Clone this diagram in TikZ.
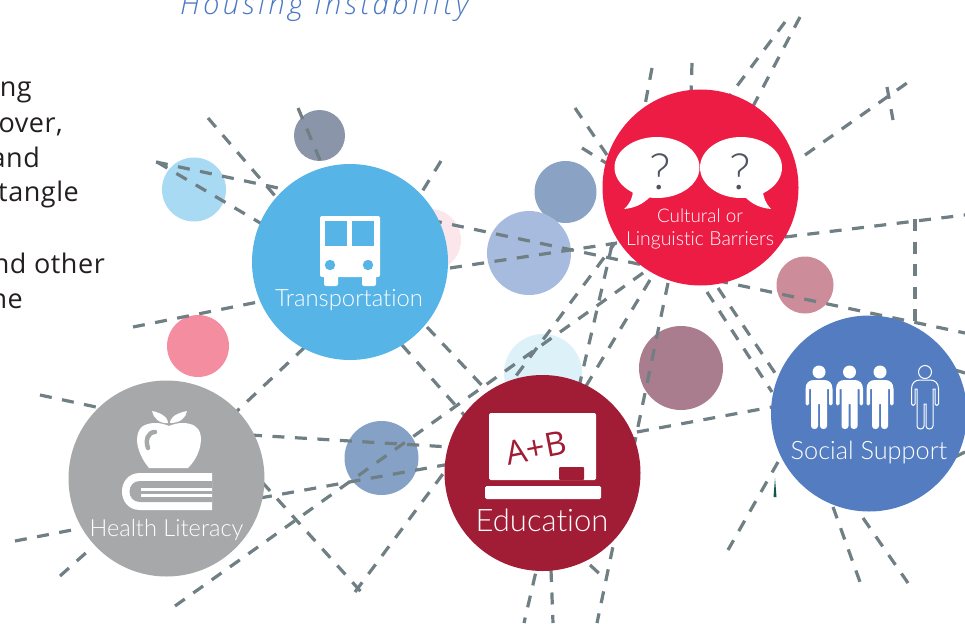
\documentclass[tikz,border=0pt]{standalone}
\usepackage{fontspec}
\setmainfont{Liberation Sans}
\newfontfamily\lightf{Lato}[UprightFont=* Light,Ligatures=NoCommon]
\newfontfamily\bodyf{Open Sans}[LetterSpace=2]
\newfontfamily\handf{Open Sans}
\newfontfamily\titlef{Open Sans}[LetterSpace=12,UprightFont=* Light,ItalicFont=* Light Italic]
\definecolor{dashc}{HTML}{6F7F84}
\definecolor{tc}{HTML}{56B4E6}
\definecolor{cc}{HTML}{ED1C45}
\definecolor{hc}{HTML}{A7A8AA}
\definecolor{ec}{HTML}{A11C35}
\definecolor{sc}{HTML}{547CC0}
\definecolor{titlec}{HTML}{4A78C2}
\definecolor{qc}{HTML}{4F5362}
\definecolor{wedgec}{HTML}{0A5A4A}
\definecolor{sa}{HTML}{A9DAF3}
\definecolor{sb}{HTML}{8A95A9}
\definecolor{sd}{HTML}{FBE6EC}
\definecolor{se}{HTML}{8AA3C4}
\definecolor{sf}{HTML}{A6BBDD}
\definecolor{sg}{HTML}{CD8C99}
\definecolor{sh}{HTML}{F58DA1}
\definecolor{si}{HTML}{85A1C5}
\definecolor{sj}{HTML}{DDF1F9}
\definecolor{sk}{HTML}{A97D8E}
\definecolor{bodyc}{HTML}{231F20}
\tikzset{
  dl/.style={draw=dashc,line width=3.2pt,dash pattern=on 12pt off 10.5pt},
  bigc/.style={circle,minimum size=196pt,inner sep=0pt,fill=#1},
  smallc/.style n args={2}{circle,minimum size=#1,inner sep=0pt,fill=#2},
  lab/.style={text=white,inner sep=0pt,anchor=base,font=\lightf\fontsize{#1}{#1}\selectfont},
  bodytext/.style={anchor=base east,text=bodyc,inner sep=0pt,font=\bodyf\fontsize{27}{27}\selectfont},
  qmark/.style={text=qc,inner sep=0pt,font=\lightf\fontsize{50}{50}\selectfont},
  icon/.style={fill=white,draw=none},
}
\newcommand\conn[3]{\coordinate (#1a) at (#2); \coordinate (#1b) at (#3); \draw[dl] (#1a) -- (#1b);}
\newcommand\person[2]{%
  \begin{scope}[shift={(#1,372)},#2]
  \path (0,0) circle[radius=6.5];
  \path (-5,8) .. controls (-10,8) and (-13.5,11) .. (-13.5,17) -- (-13.5,32) .. controls (-13.5,34) and (-10,34) .. (-10,32) -- (-10,17) -- (-8,17) -- (-8,54) .. controls (-8,58) and (-1,58) .. (-1,54) -- (-1,32) -- (1,32) -- (1,54) .. controls (1,58) and (8,58) .. (8,54) -- (8,17) -- (10,17) -- (10,32) .. controls (10,34) and (13.5,34) .. (13.5,32) -- (13.5,17) .. controls (13.5,11) and (10,8) .. (5,8) -- cycle;
  \end{scope}}
\begin{document}
\begin{tikzpicture}[x=1pt,y=-1pt]
\useasboundingbox (0,0) rectangle (965,623);
\clip (0,0) rectangle (965,623);
% clipped text
\node[anchor=base west,inner sep=0pt,text=titlec,font=\titlef\itshape\fontsize{29.3}{29.3}\selectfont] (title) at (180,15) {Housing Instability};
\node[bodytext] (b1) at (32,97) {ng};
\node[bodytext] (b2) at (63,132) {over,};
\node[bodytext] (b3) at (40,167) {and};
\node[bodytext] (b4) at (79,201) {tangle};
\node[bodytext] (b5) at (105,273) {nd other};
\node[bodytext] (b6) at (23,308) {ne};
% small circles
\node[smallc={64pt}{sa}] (s1) at (194,189.5) {};
\node[smallc={51pt}{sb}] (s2) at (319.5,135.5) {};
\node[smallc={62pt}{sd}] (s3) at (430,240) {};
\node[smallc={62pt}{se}] (s4) at (565.5,192) {};
\node[smallc={84pt}{sf}] (s5) at (529,253) {};
\node[smallc={57pt}{sg}] (s6) at (805,285) {};
\node[smallc={62pt}{sh}] (s7) at (198,346) {};
\node[smallc={74pt}{si}] (s8) at (381.5,458) {};
\node[smallc={78pt}{sj}] (s9) at (543,373) {};
\node[smallc={84pt}{sk}] (s10) at (681,368) {};
% connectors
\conn{a}{208,118}{276,197}
\conn{b}{156,162}{278,188}
\conn{c}{157,162}{262,224}
\conn{d}{298,108}{320,160}
\conn{e}{441,161}{420,195}
\conn{f}{430,220}{965,333}
\conn{g}{450,268}{617,243}
\conn{h}{785,237}{965,215}
\conn{i}{133,327}{258,302}
\conn{j}{305,347}{236,412}
\conn{k}{402,345}{465,416}
\conn{l}{427,327}{490,394}
\conn{m}{40,395}{96,407}
\conn{n}{15,541}{72,530}
\conn{o}{60,576}{88,551}
\conn{p}{250,435}{450,447}
\conn{q}{260,498}{450,464}
\conn{r}{262,482}{363,594}
\conn{s}{175,606}{650,268}
\conn{t}{355,592}{615,243}
\conn{u}{612,245}{524,623}
\conn{v}{650,280}{580,396}
\conn{w}{668,283}{597,623}
\conn{x}{637,432}{772,407}
\conn{y}{575,108}{607,155}
\conn{z}{582,148}{606,163}
\conn{aa}{652,68}{645,105}
\conn{ab}{692,63}{691,95}
\conn{ac}{800,17}{750,112}
\conn{ad}{785,22}{728,98}
\conn{ae}{805,155}{907,83}
\conn{af}{887,87}{893,120}
\conn{ag}{915,219}{915,325}
\conn{ah}{707,292}{772,392}
\conn{ai}{718,288}{775,373}
\conn{aj}{778,462}{728,550}
\conn{ak}{833,507}{860,582}
\conn{al}{863,518}{908,583}
\conn{am}{551,570}{553,623}
\conn{an}{590,565}{603,577}
\conn{ao}{955,370}{965,373}
\conn{ap}{955,457}{965,452}
\fill[wedgec] (775,478) -- (776.5,497) -- (773.5,497) -- cycle;
% big circles
\node[bigc=tc] (T) at (350,262) {};
\node[bigc=cc] (C) at (700.5,187.5) {};
\node[bigc=hc] (H) at (166.5,478.5) {};
\node[bigc=ec] (E) at (542.5,473) {};
\node[bigc=sc] (S) at (869,413.5) {};
% bus
\fill[icon,rounded corners=2pt] (320,216) rectangle (380,277);
\fill[icon,rounded corners=2pt] (324,272) rectangle (338,286);
\fill[icon,rounded corners=2pt] (362,272) rectangle (376,286);
\fill[tc] (325,221) rectangle (347,246);
\fill[tc] (352,221) rectangle (374,246);
\fill[tc] (330,265) circle[radius=5.2];
\fill[tc] (368,265) circle[radius=5.2];
\node[lab=23.8] (Tl) at (349,306) {Transportation};
% bubbles
\fill[icon] (657,167.5) ellipse[x radius=42.5,y radius=30.5];
\fill[icon] (741,167.5) ellipse[x radius=41,y radius=30.5];
\fill[icon] (633,190) .. controls (633,197) and (630,204) .. (624,209) .. controls (635,208) and (643,204) .. (650,197) -- cycle;
\fill[icon] (763,191) .. controls (763,197) and (766,204) .. (771,209) .. controls (760,208) and (752,204) .. (745,197) -- cycle;
\node[qmark] (q1) at (660,172) {?};
\node[qmark] (q2) at (740,172) {?};
\node[lab=18.8] (Cl1) at (700,222) {Cultural or};
\node[lab=19.4] (Cl2) at (700,245) {Linguistic Barriers};
% apple and book
\fill[icon] (169,426) .. controls (160,422) and (150,422) .. (143,426) .. controls (137,430) and (136,440) .. (138,447) .. controls (140,455) and (144,462) .. (149,468) -- (188,468) .. controls (194,462) and (198,455) .. (200,447) .. controls (202,438) and (201,430) .. (195,426) .. controls (188,422) and (178,422) .. (169,426) -- cycle;
\draw[hc,line width=4.5pt,line cap=round] (155,432) .. controls (148,432) and (145,440) .. (148,448);
\fill[icon] (152,411) .. controls (158,412) and (168,416) .. (168,423) .. controls (160,424) and (153,418) .. (152,411) -- cycle;
\fill[icon] (187,411) .. controls (172,414) and (170,420) .. (170,423) .. controls (180,423) and (186,418) .. (187,411) -- cycle;
\fill[icon] (212,473) -- (140,473) .. controls (116,473) and (116,510) .. (140,510) -- (212,510) -- cycle;
\fill[hc] (212,481) -- (140,481) .. controls (126,481) and (126,502) .. (140,502) -- (212,502) -- cycle;
\fill[icon] (141,487.5) rectangle (212,490.5);
\fill[icon] (141,494) rectangle (212,497);
\node[lab=23.6] (Hl) at (166.5,536) {Health Literacy};
% board
\fill[icon,rounded corners=1.5pt] (489,413) rectangle (596,480);
\fill[icon,rounded corners=1.5pt] (485,486) rectangle (601,499);
\fill[ec,rounded corners=1pt] (559,467) rectangle (584,480);
\node[text=ec,rotate=11,inner sep=0pt,font=\handf\fontsize{33}{33}\selectfont] (ab) at (536,448) {A+B};
\node[lab=31] (El) at (542,531) {Education};
% people
\person{819}{every path/.style={fill=white}}
\person{849.5}{every path/.style={fill=white}}
\person{880}{every path/.style={fill=white}}
\person{925}{every path/.style={draw=white,line width=1pt}}
\node[lab=25.3] (Sl) at (869,459) {Social Support};
\end{tikzpicture}
\end{document}
